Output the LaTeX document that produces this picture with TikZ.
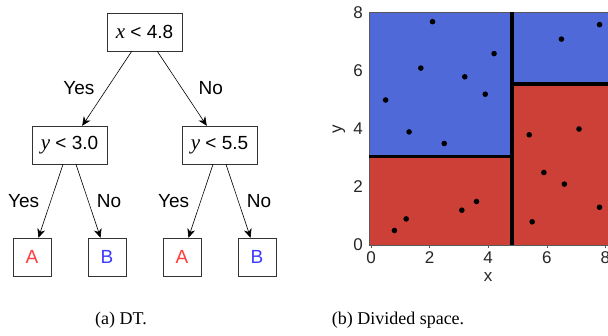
\documentclass[tikz,border=0pt]{standalone}
\usepackage{fontspec}
\setmainfont{Liberation Serif}
\setsansfont{Liberation Sans}
\usepackage{tikz}
\usetikzlibrary{arrows.meta,positioning}
\definecolor{TreeBlue}{HTML}{5069D9}
\definecolor{TreeRed}{HTML}{CC4038}
\definecolor{LeafRed}{HTML}{FF3B3B}
\definecolor{LeafBlue}{HTML}{3B3BFF}
\definecolor{AxisGray}{HTML}{262626}
\newcommand{\mvar}[1]{{\rmfamily\itshape\fontsize{21}{21}\selectfont #1}}

\begin{document}
\begin{tikzpicture}[
  x=1pt,y=-1pt,
  every node/.style={font=\sffamily\fontsize{19}{21}\selectfont},
  test/.style={draw=black!80,minimum width=75pt,minimum height=38pt,
    inner sep=0pt},
  leaf/.style={draw=black!80,minimum size=38pt,inner sep=0pt},
  branch/.style={-{Stealth[length=9pt,width=8pt]},semithick},
  tick/.style={font=\sffamily\fontsize{17}{19}\selectfont,text=AxisGray},
  caption/.style={font=\rmfamily\fontsize{18}{20}\selectfont}
]
\useasboundingbox (0,0) rectangle (608,336);

% decision tree
\node[test] (root) at (144.5,32) {\mvar{x} < 4.8};
\node[test] (left) at (69.5,145) {\mvar{y} < 3.0};
\node[test] (right) at (219.5,145) {\mvar{y} < 5.5};
\node[leaf,text=LeafRed] (la) at (32,257) {A};
\node[leaf,text=LeafBlue] (lb) at (107,257) {B};
\node[leaf,text=LeafRed] (ra) at (182,257) {A};
\node[leaf,text=LeafBlue] (rb) at (257,257) {B};

\draw[branch] (root) -- node[left=9pt] {Yes} (left);
\draw[branch] (root) -- node[right=13pt] {No} (right);
\draw[branch] (left) -- node[left=8pt] {Yes} (la);
\draw[branch] (left) -- node[right=5pt] {No} (lb);
\draw[branch] (right) -- node[left=8pt] {Yes} (ra);
\draw[branch] (right) -- node[right=5pt] {No} (rb);

% divided space
\begin{scope}[shift={(371,245)},x=29.3pt,y=29pt]
  \fill[TreeBlue] (-0.06,3.05) rectangle (4.8,8.02);
  \fill[TreeRed] (-0.06,0) rectangle (4.8,3.05);
  \fill[TreeBlue] (4.8,5.55) rectangle (8.2,8.02);
  \fill[TreeRed] (4.8,0) rectangle (8.2,5.55);
  \draw[black!65,thin] (-0.06,0) rectangle (8.2,8.02);
  \draw[line width=4pt] (4.8,0) -- (4.8,8.02);
  \draw[line width=3.5pt] (-0.06,3.05) -- (4.8,3.05);
  \draw[line width=3.5pt] (4.8,5.55) -- (8.2,5.55);
  \foreach \px/\py in {2.1/7.7,7.8/7.6,6.5/7.1,4.2/6.6,1.7/6.1,3.2/5.8,
      3.9/5.2,0.5/5.0,1.3/3.9,2.5/3.5,5.4/3.8,7.1/4.0,5.9/2.5,6.6/2.1,
      7.8/1.3,5.5/0.8,3.6/1.5,3.1/1.2,1.2/0.9,0.8/0.5}
    \fill (\px,\py) circle[radius=2.8pt];
  \foreach \t in {0,2,4,6,8} {
    \draw[black!65,thin] (\t,0) -- (\t,-0.1);
    \node[tick,anchor=north] at (\t,-0.12) {\t};
    \node[tick,anchor=east] at (-0.16,\t) {\t};
  }
  \node[tick] (xlab) at (4,-1.1) {x};
  \node[tick,rotate=90] (ylab) at (-1.1,4) {y};
\end{scope}

% captions
\node[caption] (capa) at (121,320) {(a) DT.};
\node[caption] (capb) at (398,320) {(b) Divided space.};
\end{tikzpicture}
\end{document}
